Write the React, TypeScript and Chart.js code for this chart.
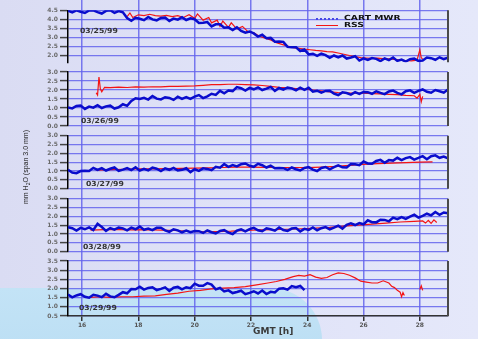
import React, { useEffect, useRef } from 'react';
import Chart from 'chart.js/auto';

// ---------- data ----------
const hours = [
  15.5, 15.65, 15.8, 15.95, 16.1, 16.25, 16.4, 16.55, 16.7, 16.85,
  17.0, 17.15, 17.3, 17.45, 17.6, 17.75, 17.9, 18.05, 18.2, 18.35,
  18.5, 18.65, 18.8, 18.95, 19.1, 19.25, 19.4, 19.55, 19.7, 19.85,
  20.0, 20.15, 20.3, 20.45, 20.6, 20.75, 20.9, 21.05, 21.2, 21.35,
  21.5, 21.65, 21.8, 21.95, 22.1, 22.25, 22.4, 22.55, 22.7, 22.85,
  23.0, 23.15, 23.3, 23.45, 23.6, 23.75, 23.9, 24.05, 24.2, 24.35,
  24.5, 24.65, 24.8, 24.95, 25.1, 25.25, 25.4, 25.55, 25.7, 25.85,
  26.0, 26.15, 26.3, 26.45, 26.6, 26.75, 26.9, 27.05, 27.2, 27.35,
  27.5, 27.65, 27.8, 27.95, 28.1, 28.25, 28.4, 28.55, 28.7, 28.85,
  29.0,
];

const mwr1 = [
  4.48, 4.38, 4.50, 4.42, 4.35, 4.49, 4.50, 4.40, 4.32, 4.47,
  4.50, 4.36, 4.46, 4.39, 4.07, 3.92, 4.08, 4.03, 3.95, 4.13,
  3.99, 3.94, 4.07, 4.10, 3.91, 4.04, 3.98, 4.12, 3.96, 4.05,
  4.00, 3.79, 3.81, 3.84, 3.60, 3.72, 3.72, 3.53, 3.55, 3.40,
  3.55, 3.35, 3.25, 3.32, 3.21, 3.03, 3.14, 2.94, 2.96, 2.75,
  2.76, 2.74, 2.46, 2.44, 2.44, 2.23, 2.31, 2.04, 2.08, 1.96,
  2.08, 2.00, 1.85, 1.98, 1.88, 1.98, 1.81, 1.87, 1.94, 1.70,
  1.82, 1.73, 1.84, 1.79, 1.67, 1.82, 1.72, 1.87, 1.68, 1.75,
  1.64, 1.77, 1.81, 1.68, 1.70, 1.87, 1.83, 1.74, 1.88, 1.78,
  1.85,
];
const mwr2 = [
  1.03, 0.98, 1.11, 1.14, 0.95, 1.08, 1.02, 1.16, 1.00, 1.09,
  1.13, 0.97, 1.04, 1.21, 1.12, 1.39, 1.54, 1.50, 1.57, 1.47,
  1.67, 1.52, 1.48, 1.60, 1.56, 1.45, 1.63, 1.51, 1.61, 1.51,
  1.63, 1.72, 1.55, 1.65, 1.79, 1.73, 1.95, 1.82, 1.97, 1.94,
  2.16, 2.10, 1.97, 2.12, 2.04, 2.15, 2.00, 2.08, 2.17, 1.95,
  2.11, 2.02, 2.14, 2.09, 1.98, 2.13, 2.01, 2.12, 1.91, 1.96,
  1.85, 1.95, 1.96, 1.80, 1.72, 1.87, 1.83, 1.74, 1.88, 1.78,
  1.89, 1.88, 1.79, 1.93, 1.84, 1.77, 1.92, 1.97, 1.84, 1.76,
  1.93, 1.98, 1.84, 1.95, 2.03, 1.90, 1.85, 2.00, 1.93, 1.85,
  2.03,
];
const mwr3 = [
  1.07, 0.92, 0.88, 1.00, 1.01, 1.00, 1.18, 1.06, 1.16, 1.03,
  1.13, 1.20, 1.01, 1.08, 1.17, 1.05, 1.21, 1.02, 1.12, 1.04,
  1.19, 1.13, 1.00, 1.15, 1.07, 1.18, 1.03, 1.07, 1.16, 0.94,
  1.10, 1.01, 1.15, 1.12, 1.05, 1.24, 1.19, 1.39, 1.24, 1.34,
  1.26, 1.39, 1.43, 1.30, 1.24, 1.41, 1.33, 1.20, 1.30, 1.16,
  1.17, 1.16, 1.06, 1.20, 1.10, 1.03, 1.17, 1.22, 1.08, 1.00,
  1.17, 1.23, 1.10, 1.22, 1.32, 1.21, 1.20, 1.39, 1.38, 1.33,
  1.54, 1.43, 1.41, 1.57, 1.63, 1.47, 1.62, 1.59, 1.75, 1.62,
  1.73, 1.79, 1.65, 1.74, 1.84, 1.67, 1.84, 1.89, 1.75, 1.82,
  1.72,
];
const mwr4 = [
  1.39, 1.33, 1.20, 1.35, 1.27, 1.38, 1.23, 1.58, 1.40, 1.18,
  1.34, 1.25, 1.37, 1.32, 1.21, 1.36, 1.27, 1.42, 1.24, 1.31,
  1.22, 1.35, 1.36, 1.21, 1.12, 1.27, 1.21, 1.10, 1.20, 1.10,
  1.17, 1.16, 1.06, 1.20, 1.10, 1.03, 1.17, 1.22, 1.08, 1.00,
  1.19, 1.27, 1.15, 1.28, 1.35, 1.21, 1.16, 1.32, 1.27, 1.19,
  1.37, 1.23, 1.18, 1.31, 1.34, 1.15, 1.29, 1.23, 1.37, 1.21,
  1.33, 1.39, 1.26, 1.36, 1.47, 1.31, 1.52, 1.61, 1.51, 1.62,
  1.55, 1.78, 1.67, 1.66, 1.81, 1.80, 1.72, 1.93, 1.84, 1.96,
  1.86, 1.99, 2.09, 1.93, 2.03, 2.15, 2.06, 2.25, 2.09, 2.22,
  2.17,
];
const mwr5 = [
  1.67, 1.52, 1.62, 1.69, 1.55, 1.50, 1.66, 1.61, 1.53, 1.71,
  1.57, 1.52, 1.65, 1.80, 1.74, 1.97, 1.96, 2.10, 1.94, 2.03,
  2.07, 1.91, 1.98, 2.06, 1.87, 2.04, 2.09, 1.95, 2.07, 2.02,
  2.26, 2.15, 2.15, 2.29, 2.21, 1.95, 2.03, 1.84, 1.90, 1.75,
  1.81, 1.88, 1.69, 1.76, 1.85, 1.73, 1.89, 1.70, 1.82, 1.78,
  1.99, 2.01, 1.94, 2.13, 2.07, 2.14, 1.91,
];

const rssHours1 = [17.6, 17.7, 17.8, 18.0, 18.2, 18.4, 18.6, 18.8, 19.0, 19.2, 19.4, 19.6, 19.8, 20.0, 20.1, 20.3, 20.5, 20.6, 20.8, 20.9, 21.0, 21.2, 21.3, 21.5, 21.7, 21.9, 22.1, 22.3, 22.5, 22.7, 22.9, 23.1, 23.3, 23.5, 23.7, 23.9, 24.1, 24.3, 24.5, 24.7, 24.9, 25.1, 25.3, 25.5, 25.7, 25.9, 26.1, 26.3, 26.5, 26.7, 26.9, 27.1, 27.3, 27.5, 27.7, 27.9, 28.0, 28.05, 28.1];
const rss1 = [4.15, 4.35, 4.1, 4.25, 4.2, 4.28, 4.2, 4.18, 4.22, 4.15, 4.2, 4.1, 4.25, 4.05, 4.3, 3.95, 4.1, 3.8, 3.95, 3.6, 3.9, 3.55, 3.8, 3.45, 3.6, 3.3, 3.25, 3.05, 2.95, 2.85, 2.7, 2.6, 2.5, 2.42, 2.38, 2.33, 2.3, 2.26, 2.24, 2.2, 2.18, 2.12, 2.05, 1.98, 1.92, 1.86, 1.84, 1.82, 1.83, 1.8, 1.79, 1.76, 1.72, 1.7, 1.68, 1.72, 2.3, 1.85, 1.8];

const rssHours2 = [16.5, 16.55, 16.6, 16.65, 16.7, 16.8, 17.0, 17.3, 17.6, 17.9, 18.2, 18.5, 18.8, 19.1, 19.4, 19.7, 20.0, 20.3, 20.6, 20.9, 21.2, 21.5, 21.8, 22.1, 22.4, 22.7, 23.0, 23.3, 23.6, 23.9, 24.2, 24.5, 24.8, 25.1, 25.4, 25.7, 26.0, 26.3, 26.6, 26.9, 27.2, 27.5, 27.8, 27.9, 28.0, 28.05, 28.1];
const rss2 = [1.85, 1.72, 2.72, 2.05, 1.9, 2.15, 2.13, 2.16, 2.14, 2.17, 2.16, 2.18, 2.17, 2.2, 2.2, 2.22, 2.23, 2.26, 2.3, 2.3, 2.32, 2.32, 2.3, 2.28, 2.25, 2.2, 2.15, 2.12, 2.08, 2.05, 2.0, 1.95, 1.9, 1.86, 1.84, 1.82, 1.82, 1.8, 1.78, 1.76, 1.74, 1.7, 1.68, 1.55, 1.75, 1.35, 1.65];

const rssHours3 = [16.5, 17.0, 17.5, 18.0, 18.5, 19.0, 19.5, 20.0, 20.5, 21.0, 21.5, 22.0, 22.5, 23.0, 23.5, 24.0, 24.5, 25.0, 25.5, 26.0, 26.5, 27.0, 27.5, 28.0, 28.45];
const rss3 = [1.05, 1.08, 1.1, 1.12, 1.12, 1.14, 1.15, 1.16, 1.18, 1.2, 1.22, 1.22, 1.21, 1.2, 1.2, 1.19, 1.22, 1.26, 1.32, 1.38, 1.42, 1.45, 1.48, 1.5, 1.52];

const rssHours4 = [16.3, 16.8, 17.3, 17.8, 18.3, 18.8, 19.3, 19.8, 20.3, 20.8, 21.3, 21.8, 22.3, 22.8, 23.3, 23.8, 24.3, 24.8, 25.3, 25.8, 26.3, 26.8, 27.3, 27.8, 28.1, 28.2, 28.3, 28.4, 28.5, 28.6];
const rss4 = [1.22, 1.25, 1.25, 1.24, 1.25, 1.22, 1.2, 1.15, 1.13, 1.14, 1.16, 1.2, 1.23, 1.25, 1.27, 1.3, 1.33, 1.38, 1.45, 1.5, 1.56, 1.62, 1.68, 1.72, 1.74, 1.62, 1.78, 1.6, 1.8, 1.65];

const rssHours5 = [16.2, 16.6, 17.0, 17.4, 17.8, 18.2, 18.6, 19.0, 19.4, 19.8, 20.2, 20.6, 21.0, 21.4, 21.8, 22.2, 22.6, 22.9, 23.2, 23.5, 23.7, 23.9, 24.1, 24.3, 24.5, 24.7, 24.9, 25.1, 25.3, 25.5, 25.7, 25.9, 26.1, 26.3, 26.5, 26.7, 26.9, 27.0, 27.1, 27.2, 27.3, 27.35, 27.4, 27.45, 27.7, 28.0, 28.05, 28.1];
const rss5 = [1.5, 1.55, 1.52, 1.55, 1.55, 1.58, 1.6, 1.68, 1.75, 1.85, 1.9, 1.98, 2.02, 2.05, 2.1, 2.2, 2.3, 2.38, 2.5, 2.65, 2.72, 2.68, 2.75, 2.62, 2.55, 2.6, 2.75, 2.85, 2.82, 2.72, 2.58, 2.4, 2.35, 2.3, 2.3, 2.42, 2.3, 2.12, 2.05, 1.9, 1.8, 1.55, 1.78, 1.62, null, 1.95, 2.15, 1.9];

const xTicks = [16, 18, 20, 22, 24, 26, 28];
const ticksP1 = [2.0, 2.5, 3.0, 3.5, 4.0, 4.5];
const ticksP234 = [0.0, 0.5, 1.0, 1.5, 2.0, 2.5, 3.0];
const ticksP5 = [0.5, 1.0, 1.5, 2.0, 2.5, 3.0, 3.5];
const dates = ['03/25/99', '03/26/99', '03/27/99', '03/28/99', '03/29/99'];
const seriesNames = ['CART MWR', 'RSS'];

// ---------- styling / layout ----------
const BLUE = '#0a0ccc';
const RED = '#f41414';
const GRID = 'rgba(100,100,236,0.85)';
const AXIS_W = 68;

const panels = [
  { id: 'y1', min: 1.6, max: 4.5, ticks: ticksP1, h: 52, mwr: mwr1, rh: rssHours1, rss: rss1 },
  { id: 'y2', min: 0, max: 3.0, ticks: ticksP234, h: 54, mwr: mwr2, rh: rssHours2, rss: rss2 },
  { id: 'y3', min: 0, max: 3.0, ticks: ticksP234, h: 53, mwr: mwr3, rh: rssHours3, rss: rss3 },
  { id: 'y4', min: 0, max: 3.0, ticks: ticksP234, h: 53, mwr: mwr4, rh: rssHours4, rss: rss4 },
  { id: 'y5', min: 0.5, max: 3.5, ticks: ticksP5, h: 55, mwr: mwr5, rh: rssHours5, rss: rss5 },
];
const gaps = [10.3, 9.7, 9.7, 10, 9.3]; // space above each panel

function fitLeft(s: any) {
  s.width = AXIS_W;
  s.paddingTop = 0;
  s.paddingBottom = 0;
}

function buildScales() {
  const scales: any = {
    x: {
      type: 'linear',
      position: 'bottom',
      min: 15.5,
      max: 29,
      afterBuildTicks: (s: any) => { s.ticks = xTicks.map((v) => ({ value: v })); },
      afterFit: (s: any) => { s.height = 23; s.paddingLeft = 0; s.paddingRight = 0; },
      grid: { color: GRID, lineWidth: 1.5, tickColor: '#333', tickLength: 5, tickWidth: 1.5 },
      border: { display: true, color: '#333', width: 1.5 },
      ticks: {
        autoSkip: false, maxRotation: 0, padding: 1, color: '#555',
        font: { family: 'DejaVu Sans', size: 6, weight: 'bold' },
        callback: (v: any) => String(v),
      },
    },
  };
  let w = 100;
  panels.forEach((p, i) => {
    scales['gap' + i] = {
      type: 'linear', position: 'left', stack: 'v', stackWeight: gaps[i], weight: w--,
      min: 0, max: 1, display: true,
      grid: { display: false, drawTicks: false }, border: { display: false }, ticks: { display: false },
      afterFit: fitLeft,
    };
    scales[p.id] = {
      type: 'linear', position: 'left', stack: 'v', stackWeight: p.h, weight: w--,
      min: p.min, max: p.max,
      afterBuildTicks: (s: any) => { s.ticks = p.ticks.map((v) => ({ value: v })); },
      afterFit: fitLeft,
      grid: { color: GRID, lineWidth: 1.2, tickColor: '#454545', tickLength: 8, tickWidth: 1.5 },
      border: { display: true, color: '#000', width: 1.5 },
      ticks: {
        autoSkip: false, padding: 2, color: '#6a6a6a',
        font: { family: 'DejaVu Sans', size: 6, weight: 'bold' },
        callback: (v: any) => Number(v).toFixed(1),
      },
    };
  });
  return scales;
}

function buildDatasets() {
  const ds: any[] = [];
  panels.forEach((p) => {
    ds.push({
      label: seriesNames[0], yAxisID: p.id, xAxisID: 'x',
      data: p.mwr.map((v, i) => ({ x: hours[i], y: v })),
      borderColor: BLUE, borderWidth: 2.5, pointRadius: 0, tension: 0, order: 0,
    });
    ds.push({
      label: seriesNames[1], yAxisID: p.id, xAxisID: 'x',
      data: p.rss.map((v, i) => ({ x: p.rh[i], y: v })),
      borderColor: RED, borderWidth: 1.2, pointRadius: 0, tension: 0, order: 1,
    });
  });
  return ds;
}

const rightBorder = {
  id: 'rightBorder',
  afterDraw(chart: any) {
    const { ctx, chartArea } = chart;
    ctx.save();
    ctx.strokeStyle = '#4a4a4a';
    ctx.lineWidth = 2;
    panels.forEach((p) => {
      const s = chart.scales[p.id];
      ctx.beginPath();
      ctx.moveTo(chartArea.right, s.top);
      ctx.lineTo(chartArea.right, s.bottom);
      ctx.stroke();
    });
    ctx.restore();
  },
};

const labelBase: React.CSSProperties = {
  position: 'absolute',
  fontFamily: 'DejaVu Sans',
  fontWeight: 'bold',
  whiteSpace: 'nowrap',
  transformOrigin: 'left center',
  color: '#333',
};

const datePos = [
  { left: 80, top: 27.5 },
  { left: 81, top: 118.2 },
  { left: 86, top: 181 },
  { left: 83, top: 244 },
  { left: 79, top: 304.7 },
];

export default function App() {
  const ref = useRef<HTMLCanvasElement>(null);
  useEffect(() => {
    document.body.style.margin = '0';
    const chart = new Chart(ref.current as HTMLCanvasElement, {
      type: 'line',
      data: { datasets: buildDatasets() },
      options: {
        animation: false,
        responsive: false,
        devicePixelRatio: 1,
        events: [],
        layout: { padding: { left: 0, right: 30, top: 0, bottom: 0 } },
        scales: buildScales(),
        plugins: { legend: { display: false }, tooltip: { enabled: false }, title: { display: false } },
      } as any,
      plugins: [rightBorder],
    });
    return () => chart.destroy();
  }, []);

  return (
    <div style={{
      position: 'relative', width: 478, height: 339, overflow: 'hidden',
      background: 'linear-gradient(90deg, #dadcf3 0%, #e0e3f8 55%, #e5e8fa 100%)',
    }}>
      <div style={{
        position: 'absolute', left: 0, top: 288, width: 322, height: 90,
        background: 'linear-gradient(180deg, #c3e3f6 0%, #b9ddf3 100%)',
        borderTopRightRadius: 52,
      }} />
      <canvas ref={ref} width={478} height={339}
        style={{ position: 'absolute', left: 0, top: 0, width: 478, height: 339 }} />

      {dates.map((d, i) => (
        <div key={d} style={{ ...labelBase, left: datePos[i].left, top: datePos[i].top, fontSize: 7, lineHeight: '7px', transform: 'scaleX(1.1)' }}>{d}</div>
      ))}

      {/* legend */}
      <div style={{ position: 'absolute', left: 316, top: 17.7, width: 22, height: 0, borderTop: '2px dotted #4646e6' }} />
      <div style={{ position: 'absolute', left: 316, top: 25, width: 22, height: 0, borderTop: '1.5px solid ' + RED }} />
      <div style={{ ...labelBase, left: 343.5, top: 14.8, fontSize: 7, lineHeight: '7px', color: '#111', transform: 'scaleX(1.32)' }}>{seriesNames[0]}</div>
      <div style={{ ...labelBase, left: 343.5, top: 21.6, fontSize: 7, lineHeight: '7px', color: '#111', transform: 'scaleX(1.32)' }}>{seriesNames[1]}</div>

      {/* x-axis title */}
      <div style={{ ...labelBase, left: 252.5, top: 327.5, fontSize: 8, lineHeight: '8px', color: '#3a3a3a', transform: 'scaleX(1.13)' }}>GMT [h]</div>

      {/* y-axis title */}
      <div style={{
        position: 'absolute', left: 26, top: 167, fontFamily: 'Liberation Sans', fontSize: 7, lineHeight: '8px',
        color: '#222', whiteSpace: 'nowrap', transform: 'translate(-50%, -50%) rotate(-90deg)',
      }}>
        mm H<sub style={{ fontSize: 5, verticalAlign: '-1.5px', lineHeight: 0 }}>2</sub>O (span 3.0 mm)
      </div>
    </div>
  );
}
